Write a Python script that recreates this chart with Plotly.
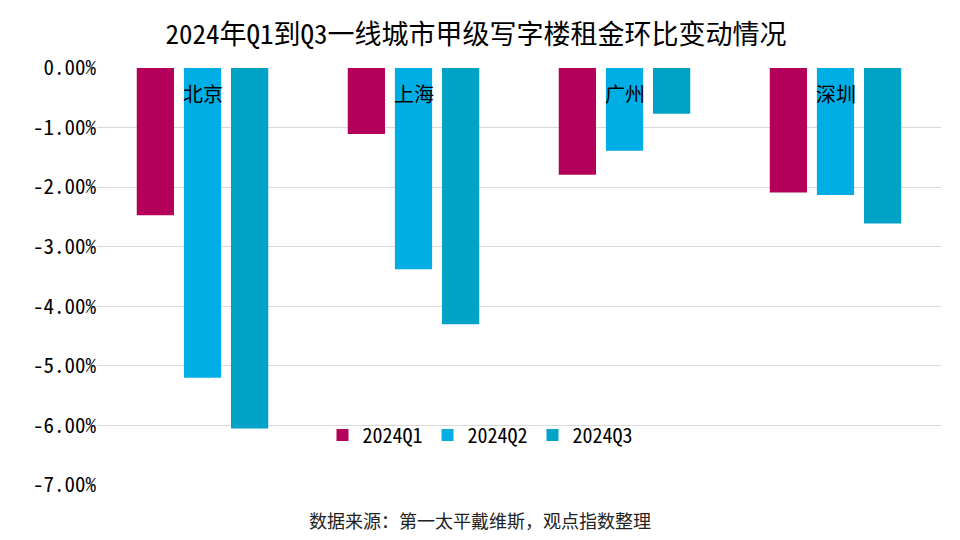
import plotly.graph_objects as go

cities = ["北京", "上海", "广州", "深圳"]
series_names = ["2024Q1", "2024Q2", "2024Q3"]
q1 = [-2.47, -1.11, -1.79, -2.09]
q2 = [-5.20, -3.38, -1.39, -2.13]
q3 = [-6.05, -4.30, -0.77, -2.61]
tick_vals = [0, -1, -2, -3, -4, -5, -6, -7]
tick_text = ["0.00%", "-1.00%", "-2.00%", "-3.00%", "-4.00%", "-5.00%", "-6.00%", "-7.00%"]
title_text = "2024年Q1到Q3一线城市甲级写字楼租金环比变动情况"
source_text = "数据来源：第一太平戴维斯，观点指数整理"

colors = ["#B5005B", "#00AEE6", "#00A2C6"]
FONT = "Noto Sans Mono CJK SC, DejaVu Sans Mono, Noto Sans CJK SC, sans-serif"

# page body has an 8px default margin, so the figure is 952x532 placed at (8,8)
W, H = 952, 532
ML, MR, MT, MB = 89, 19, 60, 55
plot_w = W - ML - MR
plot_h = H - MT - MB

fig = go.Figure()
for name, vals, c in zip(series_names, [q1, q2, q3], colors):
    fig.add_trace(go.Bar(x=cities, y=vals, name=name, marker=dict(color=c, line=dict(width=0))))

for c in cities:
    fig.add_annotation(x=c, y=0, xref="x", yref="y", text=c, showarrow=False,
                       yanchor="top", yshift=-9, font=dict(size=20, color="#000", family=FONT))

fig.add_annotation(x=(472 - ML) / plot_w, y=-35 / plot_h, xref="paper", yref="paper",
                   text=source_text, showarrow=False, yanchor="middle", xanchor="center",
                   font=dict(size=18, color="#222", family=FONT))

fig.update_layout(
    width=W, height=H,
    margin=dict(l=ML, r=MR, t=MT, b=MB),
    paper_bgcolor="white", plot_bgcolor="white",
    barmode="group", bargap=0.33, bargroupgap=0.21,
    title=dict(text=title_text, x=468 / W, xanchor="center", y=1 - 27 / H, yanchor="middle",
               font=dict(size=27, color="#000", family=FONT)),
    font=dict(family=FONT, color="#000"),
    legend=dict(orientation="h", x=(472 - ML) / plot_w, xanchor="center", y=50 / plot_h,
                yanchor="middle",
                font=dict(size=20, color="#000", family=FONT), bgcolor="rgba(0,0,0,0)",
                itemwidth=30, traceorder="normal"),
    xaxis=dict(showticklabels=False, showgrid=False, zeroline=False, showline=False),
    yaxis=dict(range=[-7, 0], tickvals=tick_vals, ticktext=tick_text,
               showgrid=True, gridcolor="#D9D9D9", gridwidth=1, zeroline=False,
               tickfont=dict(size=21, color="#000", family=FONT), ticks="", ticklen=0),
)

fig.write_html("out.html")
